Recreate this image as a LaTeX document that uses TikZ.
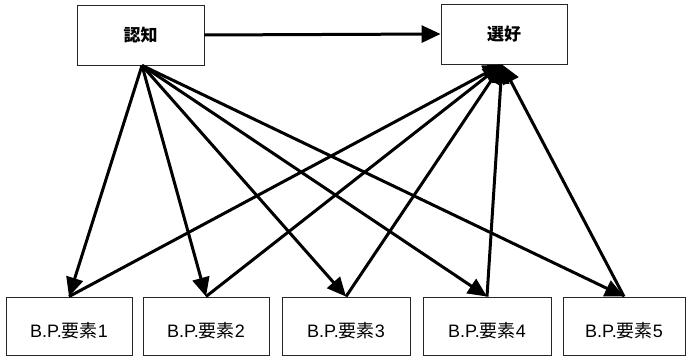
\documentclass[tikz,border=0pt]{standalone}
\usepackage{fontspec}
\setmainfont{Liberation Sans}
\newfontfamily\cjk{Noto Sans CJK JP}
\usetikzlibrary{arrows.meta}
\tikzset{
  box/.style={draw=black!85, line width=0.9pt, rectangle, inner sep=0pt, minimum height=58pt},
  topbox/.style={box, minimum height=60pt, font=\fontsize{17}{20}\selectfont\cjk\bfseries},
  botbox/.style={box, text height=23pt, text depth=0pt, font=\fontsize{18}{20}\selectfont},
  conn/.style={line width=3pt, -{Triangle[length=19pt,width=17pt]}}
}
\newcommand{\bp}[1]{B.P.{\cjk 要素}#1}
\begin{document}
\begin{tikzpicture}[x=1pt,y=-1pt]
\useasboundingbox (0,0) rectangle (686,358);
\node[topbox, minimum width=127pt] (nin) at (140.5,35) {認知};
\node[topbox, minimum width=126pt] (sen) at (504,34) {選好};
\node[botbox, minimum width=126pt] (b1) at (69,326) {\bp{1}};
\node[botbox, minimum width=126pt] (b2) at (206,326) {\bp{2}};
\node[botbox, minimum width=128pt] (b3) at (346,326) {\bp{3}};
\node[botbox, minimum width=128pt] (b4) at (487,326) {\bp{4}};
\node[botbox, minimum width=122pt] (b5) at (624,326) {\bp{5}};
\coordinate (src) at ([xshift=1.5pt]nin.south);
\coordinate (dst) at ([xshift=-2pt]sen.south);
\draw[conn] (nin.east) -- (sen.west);
\foreach \b in {b1,b2,b3,b4,b5}{
  \draw[conn] (src) -- (\b.north);
  \draw[conn] (\b.north) -- (dst);
}
\end{tikzpicture}
\end{document}
